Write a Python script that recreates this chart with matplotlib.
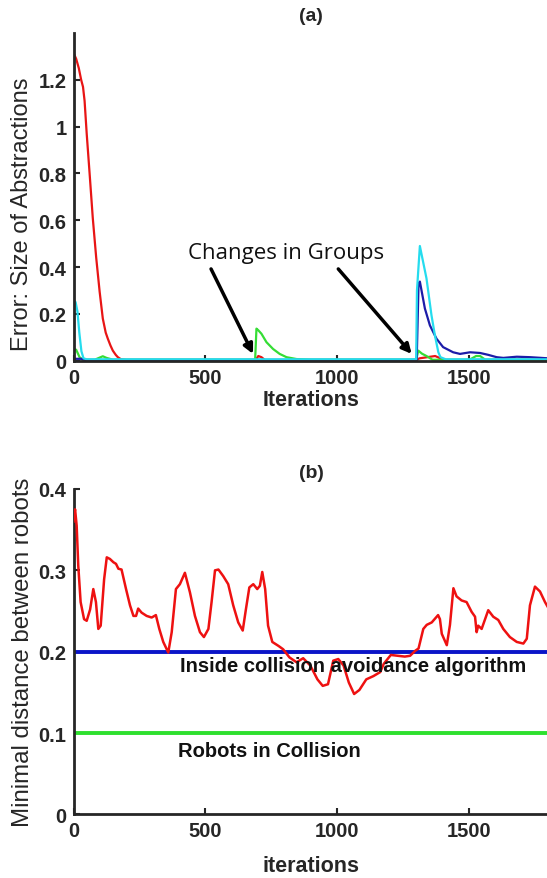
import matplotlib
matplotlib.use("Agg")
from matplotlib import pyplot as plt

# ---- panel (a): abstraction error per group ----
red_x = [0, 10, 20, 29, 36, 42, 50, 61, 73, 86, 99, 111, 122, 130, 140, 149, 160, 168, 180, 200,
         690, 700, 712, 725, 1300, 1310, 1340, 1370, 1390, 1410, 1800]
red_y = [1.315, 1.29, 1.25, 1.2, 1.17, 1.11, 0.97, 0.8, 0.61, 0.44, 0.295, 0.18, 0.12, 0.094, 0.065,
         0.043, 0.025, 0.015, 0.006, 0.003, 0.003, 0.02, 0.015, 0.003, 0.003, 0.01, 0.015, 0.02,
         0.01, 0.003, 0.003]

green_x = [0, 10, 23, 35, 80, 111, 125, 150, 688, 693, 700, 712, 731, 756, 781, 807, 845, 900,
           1298, 1306, 1320, 1337, 1360, 1500, 1525, 1540, 1560, 1800]
green_y = [0.05, 0.047, 0.015, 0.004, 0.004, 0.019, 0.012, 0.004, 0.004, 0.137, 0.13, 0.115,
           0.079, 0.05, 0.029, 0.015, 0.007, 0.004, 0.004, 0.043, 0.03, 0.02, 0.004, 0.004, 0.02,
           0.02, 0.004, 0.004]

blue_x = [0, 30, 40, 1300, 1307, 1312, 1331, 1350, 1375, 1400, 1438, 1464, 1502, 1540, 1571,
          1603, 1628, 1679, 1730, 1800]
blue_y = [0.008, 0.008, 0.003, 0.003, 0.33, 0.338, 0.223, 0.151, 0.094, 0.058, 0.036, 0.029,
          0.036, 0.033, 0.025, 0.015, 0.012, 0.017, 0.015, 0.01]

cyan_x = [0, 8, 15, 22, 30, 38, 50, 1298, 1301, 1312, 1337, 1356, 1369, 1382, 1390, 1410, 1800]
cyan_y = [0.26, 0.25, 0.21, 0.12, 0.04, 0.01, 0.006, 0.006, 0.3, 0.49, 0.352, 0.194, 0.108,
          0.036, 0.015, 0.006, 0.006]

# ---- panel (b): minimal distance between robots ----
dist_x = [0, 2, 6, 12, 18, 27, 40, 50, 63, 75, 85, 94, 103, 116, 126, 138, 151, 161, 170, 182,
          199, 214, 227, 237, 245, 258, 277, 296, 312, 325, 340, 359, 372, 388, 403, 422, 441,
          460, 479, 494, 511, 523, 536, 549, 567, 586, 605, 624, 641, 653, 666, 681, 696, 706,
          715, 726, 737, 753, 777, 794, 818, 845, 870, 897, 924, 944, 964, 984, 1003, 1023,
          1043, 1063, 1083, 1109, 1136, 1162, 1175, 1202, 1228, 1255, 1275, 1294, 1307, 1325,
          1338, 1357, 1381, 1388, 1395, 1414, 1426, 1439, 1451, 1470, 1489, 1508, 1521, 1527,
          1533, 1546, 1571, 1590, 1609, 1628, 1653, 1679, 1704, 1717, 1729, 1748, 1767, 1786,
          1800]
dist_y = [0.36, 0.367, 0.375, 0.355, 0.306, 0.261, 0.24, 0.238, 0.252, 0.277, 0.261, 0.228,
          0.232, 0.289, 0.316, 0.314, 0.31, 0.308, 0.302, 0.301, 0.277, 0.257, 0.244, 0.244,
          0.253, 0.248, 0.244, 0.242, 0.245, 0.228, 0.212, 0.199, 0.224, 0.277, 0.283, 0.297,
          0.273, 0.244, 0.224, 0.218, 0.228, 0.261, 0.3, 0.301, 0.293, 0.283, 0.257, 0.236,
          0.226, 0.252, 0.279, 0.283, 0.277, 0.281, 0.298, 0.277, 0.232, 0.212, 0.207, 0.203,
          0.193, 0.187, 0.192, 0.183, 0.166, 0.158, 0.16, 0.189, 0.191, 0.183, 0.162, 0.148,
          0.153, 0.166, 0.17, 0.175, 0.185, 0.196, 0.195, 0.194, 0.195, 0.201, 0.204, 0.228,
          0.233, 0.236, 0.245, 0.24, 0.222, 0.208, 0.233, 0.278, 0.268, 0.263, 0.261, 0.249,
          0.243, 0.224, 0.232, 0.228, 0.251, 0.243, 0.239, 0.228, 0.218, 0.212, 0.21, 0.216,
          0.257, 0.28, 0.274, 0.261, 0.253]

avoid_level = 0.2
collision_level = 0.1

x_ticks = [0, 500, 1000, 1500]
top_yticks = [0, 0.2, 0.4, 0.6, 0.8, 1, 1.2]
top_yticklabels = ["0", "0.2", "0.4", "0.6", "0.8", "1", "1.2"]
bot_yticks = [0, 0.1, 0.2, 0.3, 0.4]
bot_yticklabels = ["0", "0.1", "0.2", "0.3", "0.4"]

BOLD = dict(family="Liberation Sans", weight="bold")
AXIS_COLOR = "#262626"


def style_axes(ax, yticks, yticklabels):
    for side in ("top", "right"):
        ax.spines[side].set_visible(False)
    for side in ("left", "bottom"):
        ax.spines[side].set_linewidth(2.0)
        ax.spines[side].set_color(AXIS_COLOR)
    ax.set_xlim(0, 1800)
    ax.set_xticks(x_ticks)
    ax.set_xticklabels([str(t) for t in x_ticks])
    ax.set_yticks(yticks)
    ax.set_yticklabels(yticklabels)
    ax.tick_params(direction="in", length=4, width=1.5, color=AXIS_COLOR, pad=5,
                   labelsize=14.5, labelcolor=AXIS_COLOR)
    for lab in ax.get_xticklabels() + ax.get_yticklabels():
        lab.set_family("Liberation Sans")
        lab.set_weight("bold")


fig = plt.figure(figsize=(5.47, 8.79), dpi=100)
W, H = 547.0, 879.0

# panel (a)
ax1 = fig.add_axes([73.5 / W, 1 - 361.7 / H, 475.2 / W, 327.7 / H])
ax1.plot(red_x, red_y, color="#e81515", lw=1.6)
ax1.plot(green_x, green_y, color="#35dd35", lw=1.6)
ax1.plot(blue_x, blue_y, color="#1c1ca8", lw=1.6)
ax1.plot(cyan_x, cyan_y, color="#25dcee", lw=1.6)
ax1.set_ylim(0, 1.4)
style_axes(ax1, top_yticks, top_yticklabels)

ax1.text(434, 0.463, "Changes in Groups", family="Open Sans", fontsize=16,
         color="#111111", ha="left", va="center")
for tail, head in [((521, 0.392), (680, 0.029)), ((1003, 0.392), (1281, 0.029))]:
    ax1.annotate("", xy=head, xytext=tail,
                 arrowprops=dict(arrowstyle="-|>", lw=2.5, color="black",
                                 mutation_scale=14, shrinkA=0, shrinkB=0))

ax1.text(0.5, 1.052, "(a)", transform=ax1.transAxes, ha="center", va="center",
         fontsize=14, color=AXIS_COLOR, **BOLD)
ax1.text(0.5, -0.117, "Iterations", transform=ax1.transAxes, ha="center", va="center",
         fontsize=15.5, color=AXIS_COLOR, **BOLD)
ax1.text(-0.109, 0.45, "Error: Size of Abstractions", transform=ax1.transAxes,
         rotation=90, ha="center", va="center", fontsize=17, color=AXIS_COLOR,
         family="Liberation Sans")

# panel (b)
ax2 = fig.add_axes([73.5 / W, 1 - 815.4 / H, 475.2 / W, 325.4 / H])
ax2.plot(dist_x, dist_y, color="#ee1111", lw=1.8, zorder=3)
ax2.axhline(avoid_level, color="#0a14c8", lw=2.8, zorder=2)
ax2.axhline(collision_level, color="#2ee02e", lw=2.8, zorder=2)
ax2.set_ylim(0, 0.4)
style_axes(ax2, bot_yticks, bot_yticklabels)

ax2.text(403, 0.183, "Inside collision avoidance algorithm", ha="left", va="center",
         fontsize=14.5, color="#111111", zorder=4, **BOLD)
ax2.text(397, 0.078, "Robots in Collision", ha="left", va="center",
         fontsize=14.5, color="#111111", **BOLD)

ax2.text(0.5, 1.051, "(b)", transform=ax2.transAxes, ha="center", va="center",
         fontsize=14, color=AXIS_COLOR, **BOLD)
ax2.text(0.5, -0.158, "iterations", transform=ax2.transAxes, ha="center", va="center",
         fontsize=15.5, color=AXIS_COLOR, **BOLD)
ax2.text(-0.107, 0.501, "Minimal distance between robots", transform=ax2.transAxes,
         rotation=90, ha="center", va="center", fontsize=17.3, color=AXIS_COLOR,
         family="Liberation Sans")

fig.savefig("out.png", dpi=100)
